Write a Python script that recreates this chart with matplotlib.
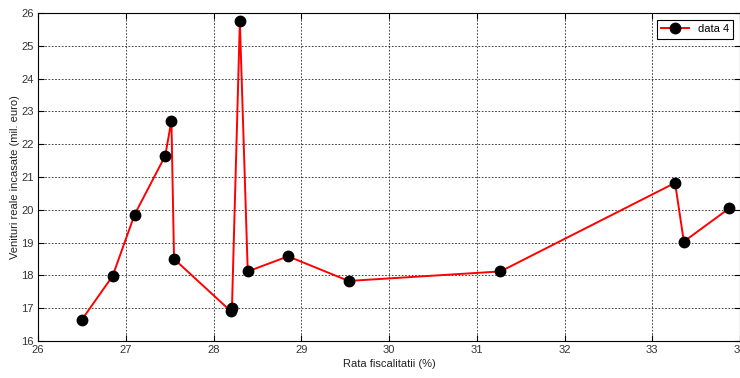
import matplotlib
matplotlib.use('Agg')
from matplotlib import pyplot as plt

# rata fiscalitatii (%) si venituri reale incasate (mil. euro)
rata = [26.50, 26.85, 27.10, 27.45, 27.52, 27.55, 28.20, 28.21, 28.30,
        28.39, 28.85, 29.54, 31.27, 33.26, 33.36, 33.88]
venituri = [16.65, 17.98, 19.85, 21.65, 22.72, 18.50, 16.90, 17.00, 25.75,
            18.12, 18.58, 17.83, 18.12, 20.82, 19.03, 20.05]
x_ticks = [26, 27, 28, 29, 30, 31, 32, 33, 34]
y_ticks = [16, 17, 18, 19, 20, 21, 22, 23, 24, 25, 26]

plt.rcParams['font.family'] = ['Liberation Sans', 'DejaVu Sans']

fig = plt.figure(figsize=(7.4, 3.78), dpi=100)
ax = fig.add_axes([0.0514, 0.098, 0.9486, 0.8676])

ax.plot(rata, venituri, color='red', linewidth=1.4, marker='o',
        markersize=7.5, markerfacecolor='black', markeredgecolor='black',
        label='data 4')

ax.set_xlim(26, 34)
ax.set_ylim(16, 26)
ax.set_xticks(x_ticks)
ax.set_yticks(y_ticks)
ax.tick_params(direction='in', top=True, right=True, labelsize=8, length=4,
               pad=3, labelcolor='#333333')
ax.grid(True, linestyle=(0, (2, 2)), color='#222222', linewidth=0.6)
for s in ax.spines.values():
    s.set_linewidth(0.8)

ax.set_xlabel('Rata fiscalitatii (%)', fontsize=8, labelpad=3, color='#222222')
ax.set_ylabel('Venituri reale incasate (mil. euro)', fontsize=8, labelpad=1,
              color='#222222')

leg = ax.legend(loc='upper right', fontsize=8, fancybox=False, framealpha=1,
                edgecolor='black', borderaxespad=0.6, handlelength=2.5)
leg.get_frame().set_linewidth(0.8)

plt.savefig('out.png', dpi=100)
plt.close()
